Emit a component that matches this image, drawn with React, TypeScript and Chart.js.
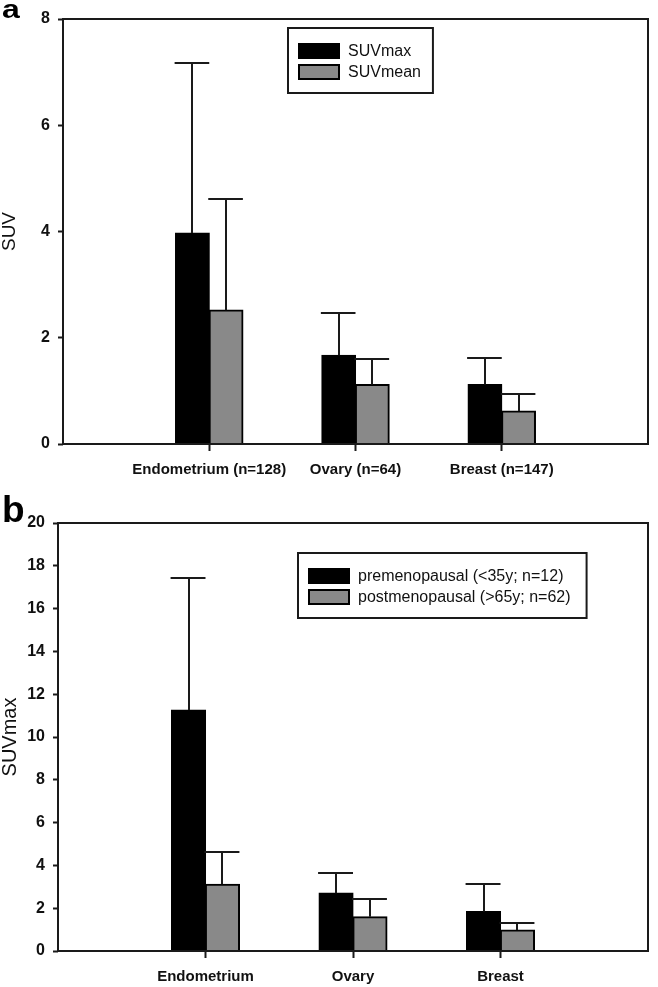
import React, { useEffect, useRef } from 'react';
import { Chart, registerables } from 'chart.js';

Chart.register(...registerables);

// ---------- Data ----------
const categoriesA = ['Endometrium (n=128)', 'Ovary (n=64)', 'Breast (n=147)'];
const suvMax = [3.97, 1.67, 1.12];
const suvMaxSD = [3.2, 0.8, 0.49];
const suvMean = [2.52, 1.12, 0.62];
const suvMeanSD = [2.09, 0.48, 0.32];
const yTicksA = [0, 2, 4, 6, 8];

const categoriesB = ['Endometrium', 'Ovary', 'Breast'];
const preMeno = [11.26, 2.7, 1.84];
const preMenoSD = [6.15, 0.93, 1.29];
const postMeno = [3.12, 1.6, 0.98];
const postMenoSD = [1.52, 0.81, 0.33];
const yTicksB = [0, 2, 4, 6, 8, 10, 12, 14, 16, 18, 20];

const FONT = '"Liberation Sans", Arial, Helvetica, sans-serif';
const INK = '#1a1a1a';
const GREY = '#898989';

const pad = (arr: (number | string)[], fill: any) => [fill, ...arr, fill];

const errorBarPlugin = {
  id: 'errorBars',
  afterDatasetsDraw(chart: any) {
    const ctx = chart.ctx;
    const y = chart.scales.y;
    chart.data.datasets.forEach((ds: any, di: number) => {
      if (!ds.errors) return;
      const meta = chart.getDatasetMeta(di);
      meta.data.forEach((el: any, i: number) => {
        const v = ds.data[i];
        const e = ds.errors[i];
        if (v == null || e == null) return;
        const { x, width } = el.getProps(['x', 'width'], true);
        const top = y.getPixelForValue(v);
        const tip = Math.round(y.getPixelForValue(v + e));
        ctx.save();
        ctx.strokeStyle = INK;
        ctx.lineWidth = 2;
        ctx.beginPath();
        ctx.moveTo(Math.round(x), top);
        ctx.lineTo(Math.round(x), tip);
        ctx.moveTo(x - width / 2 - 1, tip);
        ctx.lineTo(x + width / 2, tip);
        ctx.stroke();
        ctx.restore();
      });
    });
  },
};

const framePlugin = {
  id: 'frame',
  afterDraw(chart: any) {
    const { ctx, chartArea } = chart;
    ctx.save();
    ctx.strokeStyle = INK;
    ctx.lineWidth = 2;
    ctx.strokeRect(chartArea.left, chartArea.top, chartArea.right - chartArea.left, chartArea.bottom - chartArea.top);
    ctx.restore();
  },
};

const boxLegendPlugin = {
  id: 'boxLegend',
  afterDraw(chart: any, _args: any, opts: any) {
    if (!opts || !opts.display) return;
    const { ctx, chartArea } = chart;
    const left = chartArea.left + opts.dx;
    const top = chartArea.top + opts.dy;
    ctx.save();
    ctx.font = `16px ${FONT}`;
    const datasets = chart.data.datasets;
    let maxW = 0;
    datasets.forEach((ds: any) => {
      maxW = Math.max(maxW, ctx.measureText(ds.label).width);
    });
    const boxW = 60 + maxW + opts.rightPad;
    const boxH = 65;
    ctx.fillStyle = '#fff';
    ctx.fillRect(left, top, boxW, boxH);
    ctx.strokeStyle = INK;
    ctx.lineWidth = 2;
    ctx.strokeRect(left, top, boxW, boxH);
    datasets.forEach((ds: any, i: number) => {
      const cy = top + 23 + i * 21;
      ctx.fillStyle = ds.backgroundColor;
      ctx.fillRect(left + 11, cy - 7, 40, 14);
      ctx.strokeStyle = '#000';
      ctx.lineWidth = 2;
      ctx.strokeRect(left + 11, cy - 7, 40, 14);
      ctx.fillStyle = '#111';
      ctx.textBaseline = 'middle';
      ctx.textAlign = 'left';
      ctx.fillText(ds.label, left + 60, cy + 1);
    });
    ctx.restore();
  },
};

const panelLabelPlugin = {
  id: 'panelLabel',
  afterDraw(chart: any, _args: any, opts: any) {
    if (!opts || !opts.text) return;
    const ctx = chart.ctx;
    ctx.save();
    ctx.fillStyle = '#000';
    ctx.font = `bold ${opts.size}px ${FONT}`;
    ctx.textBaseline = 'alphabetic';
    ctx.textAlign = 'left';
    ctx.translate(opts.x, opts.y);
    ctx.scale(1, opts.sy);
    ctx.fillText(opts.text, 0, 0);
    ctx.restore();
  },
};

function makeConfig(p: {
  categories: string[];
  labels: [string, string];
  values: [number[], number[]];
  errors: [number[], number[]];
  yMax: number;
  yTitle: string;
  yTitleSize: number;
  yWidth: number;
  xHeight: number;
  padTop: number;
  legendDx: number;
  legendDy: number;
  legendRightPad: number;
  panel: { text: string; x: number; y: number; size: number; sy: number };
}) {
  const labels = pad(p.categories, '') as string[];
  const nLabels = labels.length;
  return {
    type: 'bar' as const,
    data: {
      labels,
      datasets: [
        {
          label: p.labels[0],
          data: pad(p.values[0], null),
          errors: pad(p.errors[0], null),
          backgroundColor: '#000000',
          borderColor: '#000000',
          borderWidth: 2,
        },
        {
          label: p.labels[1],
          data: pad(p.values[1], null),
          errors: pad(p.errors[1], null),
          backgroundColor: GREY,
          borderColor: '#000000',
          borderWidth: 2,
        },
      ],
    },
    options: {
      responsive: false,
      animation: false,
      events: [],
      devicePixelRatio: 1,
      layout: { padding: { top: p.padTop, right: 3, left: 0, bottom: 0 } },
      datasets: {
        bar: { categoryPercentage: 0.46, barPercentage: 1.0, borderSkipped: 'start', inflateAmount: 0.6 },
      },
      plugins: {
        legend: { display: false },
        tooltip: { enabled: false },
        boxLegend: { display: true, dx: p.legendDx, dy: p.legendDy, rightPad: p.legendRightPad },
        panelLabel: p.panel,
      },
      scales: {
        x: {
          type: 'category',
          offset: false,
          grid: {
            offset: false,
            drawOnChartArea: false,
            drawTicks: true,
            tickLength: 7,
            tickWidth: 2,
            tickColor: (c: any) => (c.index === 0 || c.index === nLabels - 1 ? 'rgba(0,0,0,0)' : INK),
          },
          border: { display: false },
          ticks: {
            autoSkip: false,
            maxRotation: 0,
            minRotation: 0,
            padding: 10,
            color: '#111',
            font: { family: FONT, size: 15, weight: 'bold' },
          },
          afterFit: (s: any) => {
            s.height = p.xHeight;
          },
        },
        y: {
          min: 0,
          max: p.yMax,
          grid: {
            drawOnChartArea: false,
            drawTicks: true,
            tickLength: 5,
            tickWidth: 2,
            tickColor: INK,
          },
          border: { display: false },
          ticks: {
            stepSize: 2,
            padding: 8,
            color: '#111',
            font: { family: FONT, size: 16, weight: 'bold' },
          },
          title: {
            display: true,
            text: p.yTitle,
            color: '#111',
            padding: 0,
            font: { family: FONT, size: p.yTitleSize, lineHeight: 1 },
          },
          afterFit: (s: any) => {
            s.width = p.yWidth;
          },
        },
      },
    },
    plugins: [errorBarPlugin, framePlugin, boxLegendPlugin, panelLabelPlugin],
  };
}

export default function App() {
  const refA = useRef<HTMLCanvasElement | null>(null);
  const refB = useRef<HTMLCanvasElement | null>(null);

  useEffect(() => {
    const cfgA = makeConfig({
      categories: categoriesA,
      labels: ['SUVmax', 'SUVmean'],
      values: [suvMax, suvMean],
      errors: [suvMaxSD, suvMeanSD],
      yMax: yTicksA[yTicksA.length - 1],
      yTitle: 'SUV',
      yTitleSize: 19,
      yWidth: 63,
      xHeight: 51,
      padTop: 19,
      legendDx: 225,
      legendDy: 9,
      legendRightPad: 12,
      panel: { text: 'a', x: 2, y: 18, size: 32, sy: 0.8 },
    });
    const cfgB = makeConfig({
      categories: categoriesB,
      labels: ['premenopausal (<35y; n=12)', 'postmenopausal (>65y; n=62)'],
      values: [preMeno, postMeno],
      errors: [preMenoSD, postMenoSD],
      yMax: yTicksB[yTicksB.length - 1],
      yTitle: 'SUVmax',
      yTitleSize: 20,
      yWidth: 58,
      xHeight: 36,
      padTop: 28,
      legendDx: 240,
      legendDy: 30,
      legendRightPad: 16,
      panel: { text: 'b', x: 2, y: 27, size: 37, sy: 1 },
    });
    const a = new Chart(refA.current as HTMLCanvasElement, cfgA as any);
    const b = new Chart(refB.current as HTMLCanvasElement, cfgB as any);
    return () => {
      a.destroy();
      b.destroy();
    };
  }, []);

  return (
    <div style={{ position: 'absolute', left: 0, top: 0, width: 658, height: 987, background: '#fff' }}>
      <canvas ref={refA} width={658} height={495} style={{ position: 'absolute', left: 0, top: 0, width: 658, height: 495 }} />
      <canvas ref={refB} width={658} height={492} style={{ position: 'absolute', left: 0, top: 495, width: 658, height: 492 }} />
    </div>
  );
}
